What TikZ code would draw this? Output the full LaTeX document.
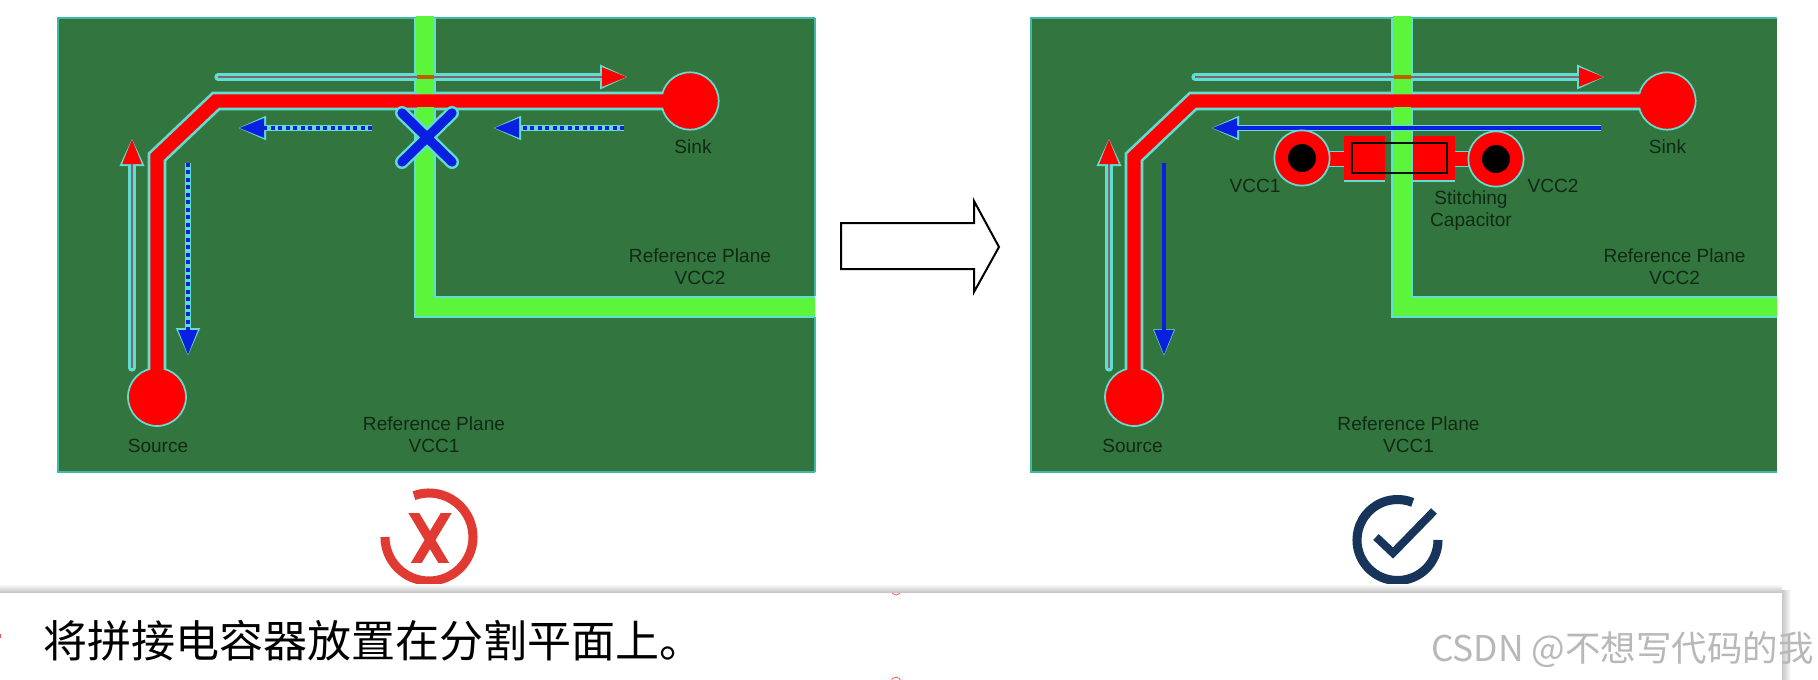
\documentclass[tikz,border=0pt]{standalone}
\usepackage{fontspec}
\setmainfont{Liberation Sans}
\newfontfamily\cjkfont{Noto Sans CJK SC}
\usetikzlibrary{arrows.meta}
\definecolor{pcbgreen}{HTML}{32753F}
\definecolor{pcblime}{HTML}{5CF53C}
\definecolor{pcbcyan}{HTML}{62DDD2}
\definecolor{pcbedge}{HTML}{3FB8A4}
\definecolor{pcbred}{HTML}{FF0000}
\definecolor{pcbblue}{HTML}{0A1FE0}
\definecolor{pcbgrey}{HTML}{7A6A6E}
\definecolor{crossred}{HTML}{E03A32}
\definecolor{checknavy}{HTML}{17345A}
\definecolor{labelink}{HTML}{102A14}
\tikzset{
  x=0.75pt, y=-0.75pt,
  plane/.style={fill=pcbgreen},
  planeedge/.style={draw=pcbedge, line width=1.5pt},
  stripcase/.style={draw=pcbcyan, line width=16.5pt},
  stripcore/.style={draw=pcblime, line width=13.5pt},
  tracecase/.style={draw=pcbcyan, line width=14pt, line join=miter},
  tracecore/.style={draw=pcbred, line width=10pt, line join=miter},
  padcase/.style={fill=pcbred, draw=pcbcyan, line width=1.3pt},
  pcblabel/.style={text=labelink, font=\fontsize{14.3}{16}\selectfont, inner sep=0pt},
  shaftcase/.style={draw=pcbcyan, line width=5.5pt, line cap=round,
    -{Triangle[length=21pt,width=17pt,color=pcbcyan]}},
  shaftgrey/.style={draw=pcbgrey, line width=2.2pt,
    -{Triangle[length=18.5pt,width=14pt,color=pcbred]}, shorten >=1pt},
  bluecase/.style={draw=pcbcyan, line width=4.6pt,
    -{Triangle[length=21pt,width=17pt,color=pcbcyan]}},
  bluecasethin/.style={draw=pcbcyan, line width=3.2pt,
    -{Triangle[length=20pt,width=15.5pt,color=pcbcyan]}},
  shaftblue/.style={draw=pcbblue, line width=2.4pt,
    -{Triangle[length=18.5pt,width=14pt,color=pcbblue]}, shorten >=1pt},
  dashcase/.style={draw=pcbcyan, line width=4.4pt,
    -{Triangle[length=21pt,width=17pt,color=pcbcyan]}},
  dashblue/.style={draw=pcbblue, line width=2.6pt, dash pattern=on 3pt off 2.6pt,
    -{Triangle[length=18.5pt,width=14pt,color=pcbblue]}, shorten >=1pt},
  iconstroke/.style={line width=6.8pt},
}
% #1 name prefix, #2 shift, #3 left edge, #4 right edge, #5 label offset
\newcommand{\boardpanel}[5]{%
  \begin{scope}[xshift=#2*0.75pt]
    \path[plane] (#3,18) rectangle (#4,472);
    \draw[planeedge] (#4,472) -- (#3,472) -- (#3,18) -- (#4,18);
    \begin{scope}
      \clip (#3,14) rectangle (#4,472);
      \draw[stripcase] (425,18) -- (425,306.5) -- (#4+20,306.5);
      \draw[stripcore] (425,16) -- (425,306.5) -- (#4+20,306.5);
    \end{scope}
    \coordinate (#1src) at (157,397);
    \coordinate (#1snk) at (690,101);
    \coordinate (#1ta) at (218,77);
    \coordinate (#1tb) at (628,77);
    \coordinate (#1ua) at (132,368);
    \coordinate (#1ub) at (132,138);
    \draw[tracecase] (#1src) -- (157,157) -- (216,101) -- (#1snk);
    \node[circle, minimum size=43.5pt, inner sep=0pt, padcase] (#1source) at (#1src) {};
    \node[circle, minimum size=43pt, inner sep=0pt, padcase] (#1sink) at (#1snk) {};
    \draw[tracecore] (#1src) -- (157,157) -- (216,101) -- (#1snk);
    \fill[pcblime] (417,89) rectangle (434,94);
    \fill[pcblime] (417,107) rectangle (434,112);
    \draw[shaftcase] (#1ta) -- (#1tb);
    \draw[shaftgrey] (#1ta) -- (#1tb);
    \fill[pcblime] (417,72) rectangle (434,75);
    \fill[pcblime] (417,79) rectangle (434,82);
    \fill[orange!75!black] (417,75) rectangle (434,79);
    \draw[shaftcase] (#1ua) -- (#1ub);
    \draw[shaftgrey] (#1ua) -- (#1ub);
    \begin{scope}[xshift=#5*0.75pt]
      \node[pcblabel] (#1lsource) at (158,446) {Source};
      \node[pcblabel] (#1lsink) at (693,147) {Sink};
      \node[pcblabel] (#1lrefa) at (434,424) {Reference Plane};
      \node[pcblabel] (#1lvcca) at (434,446) {VCC1};
      \node[pcblabel] (#1lrefb) at (700,256) {Reference Plane};
      \node[pcblabel] (#1lvccb) at (700,278) {VCC2};
    \end{scope}
  \end{scope}%
}
\begin{document}
\begin{tikzpicture}
\useasboundingbox (0,0) rectangle (1818,679);
\fill[white] (0,0) rectangle (1818,679);

%% left board
\boardpanel{l}{0}{58}{815}{0}
\draw[planeedge] (815,18) -- (815,296) (815,317) -- (815,472);
\coordinate (lda) at (372,128); \coordinate (ldb) at (238,128);
\coordinate (lea) at (624,128); \coordinate (leb) at (493,128);
\coordinate (lfa) at (188,163); \coordinate (lfb) at (188,356);
\foreach \p/\q in {lda/ldb,lea/leb,lfa/lfb}{
  \draw[dashcase] (\p) -- (\q);
  \draw[dashblue] (\p) -- (\q);
}
\coordinate (xa) at (402,113); \coordinate (xb) at (452,162);
\coordinate (xc) at (452,113); \coordinate (xd) at (402,162);
\draw[pcbcyan, line width=10.5pt, line cap=round] (xa) -- (xb) (xc) -- (xd);
\draw[pcbblue, line width=7pt, line cap=round] (xa) -- (xb) (xc) -- (xd);

%% block arrow
\draw[black, line width=1.5pt, line join=miter, fill=white]
  (841,223) -- (974,223) -- (974,201) -- (999,247) -- (974,292) -- (974,269) -- (841,269) -- cycle;

%% right board
\boardpanel{r}{977}{54}{800}{-2.5}
\coordinate (rda) at (1601,128); \coordinate (rdb) at (1211,128);
\coordinate (rfa) at (1164,163); \coordinate (rfb) at (1164,356);
\draw[bluecase] (rda) -- (rdb);
\draw[shaftblue] (rda) -- (rdb);
\draw[bluecasethin] (rfa) -- (rfb);
\draw[shaftblue] (rfa) -- (rfb);
%% stitching capacitor
\draw[pcbcyan, line width=12.5pt] (1320,159) -- (1344,159) (1455,159) -- (1480,159);
\draw[pcbred, line width=10.5pt] (1320,159) -- (1344,159) (1455,159) -- (1480,159);
\node[circle, minimum size=41.5pt, inner sep=0pt, padcase] (viaa) at (1302,158) {};
\node[circle, minimum size=41.5pt, inner sep=0pt, padcase] (viab) at (1496,159) {};
\node[circle, minimum size=21pt, inner sep=0pt, fill=black] (holea) at (viaa) {};
\node[circle, minimum size=21pt, inner sep=0pt, fill=black] (holeb) at (viab) {};
\fill[pcbcyan] (1344,180) rectangle (1385,182);
\fill[pcbcyan] (1413,180) rectangle (1455,182);
\fill[pcbred] (1344,136) rectangle (1385,180);
\fill[pcbred] (1413,136) rectangle (1455,180);
\node[draw=black!85!pcbgreen, line width=1.7pt, minimum width=71pt, minimum height=22.5pt, inner sep=0pt] (capbody) at (1399.5,158) {};
\node[pcblabel] (lvia) at (1255,186) {VCC1};
\node[pcblabel] (lvib) at (1553,186) {VCC2};
\node[pcblabel] (lstitch) at (1471,200) {Stitching};
\node[pcblabel] (lcap) at (1471,222) {Capacitor};

%% verdict icons
\draw[crossred, iconstroke] (385,537) arc[start angle=180, end angle=-110, radius=44];
\begin{scope}
  \clip (400,513) rectangle (460,562);
  \draw[crossred, line width=7pt] (409,505) -- (448,570) (451,505) -- (412,570);
\end{scope}
\draw[checknavy, iconstroke] (1438,540) arc[start angle=0, end angle=292, radius=40.5];
\coordinate (cka) at (1376,537); \coordinate (ckb) at (1393,553); \coordinate (ckc) at (1434,511);
\draw[checknavy, line width=6pt, line join=miter] (cka) -- (ckb) -- (ckc);

%% caption card
\shade[top color=white, bottom color=black!25] (0,584) rectangle (1782,593);
\shade[left color=black!22, right color=white] (1782,590) rectangle (1791,679);
\fill[white] (0,593) rectangle (1782,679);
\begin{scope}
  \clip (880,593) rectangle (910,679);
  \draw[pcbred!65, line width=.6pt] (896,590) circle[radius=5];
  \draw[pcbred!65, line width=.6pt] (896,682) circle[radius=5];
\end{scope}
\fill[pcbred!70] (0,634) rectangle (1.5,638);
\node[anchor=west, inner sep=0pt, font=\cjkfont\fontsize{33}{38}\selectfont, text=black] (caption) at (43,641) {将拼接电容器放置在分割平面上。};
\node[anchor=east, inner sep=0pt, font=\cjkfont\fontsize{26.6}{30}\selectfont, text=black!28] (wm) at (1814,650) {CSDN @不想写代码的我};
\end{tikzpicture}
\end{document}
